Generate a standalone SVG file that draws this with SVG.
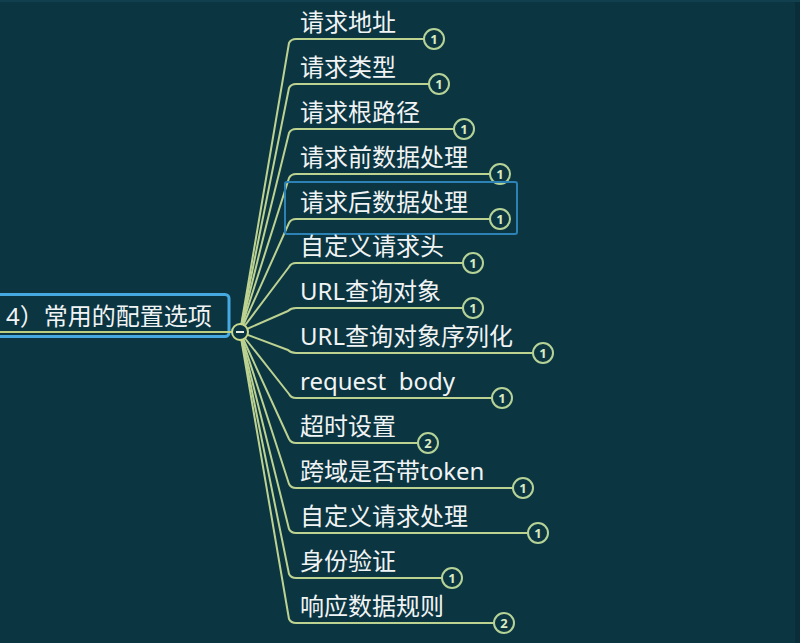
<svg xmlns="http://www.w3.org/2000/svg" width="800" height="643" viewBox="0 0 800 643">
<style>
.t{font-family:"Noto Sans","Noto Sans CJK SC",sans-serif;font-size:24px;fill:#f1f4f4;white-space:pre}
.ln{fill:none;stroke:#bcd291;stroke-width:2;stroke-linecap:round;stroke-linejoin:round}
.bd circle{fill:#0c3542;stroke:#b6d397;stroke-width:2}
.bd text{font-family:"Noto Sans","DejaVu Sans",sans-serif;font-size:13px;font-weight:bold;fill:#d9ecc2;text-anchor:middle}
</style>
<rect width="800" height="643" fill="#0c3542"/>
<rect x="795" y="0" width="5" height="643" fill="#0a2d3a"/>
<rect x="0" y="0" width="800" height="2" fill="#123f4e"/>
<g id="connectors" class="ln">
<path d="M240,332 L289,43 Q291,39 296,39 H424"/>
<path d="M240,332 L289,88 Q291,84 296,84 H429"/>
<path d="M240,332 L289,133 Q291,129 296,129 H454"/>
<path d="M240,332 L289,178 Q291,174 296,174 H490"/>
<path d="M240,332 L289,223 Q291,219 296,219 H490"/>
<path d="M240,332 L289,267 Q291,263 296,263 H463"/>
<path d="M240,332 L288,311 Q291,308 296,308 H463"/>
<path d="M240,332 L288,350 Q291,353 296,353 H533"/>
<path d="M240,332 L289,394 Q291,398 296,398 H492"/>
<path d="M240,332 L289,439 Q291,443 296,443 H418"/>
<path d="M240,332 L289,484 Q291,488 296,488 H513"/>
<path d="M240,332 L289,529 Q291,533 296,533 H528"/>
<path d="M240,332 L289,574 Q291,578 296,578 H442"/>
<path d="M240,332 L289,619 Q291,623 296,623 H494"/>
</g>
<g id="root">
<rect x="-10" y="294.5" width="239" height="42" rx="4" fill="none" stroke="#46a9e0" stroke-width="3"/>
<line x1="-10" y1="332" x2="232" y2="332" stroke="#bccf80" stroke-width="2"/>
<text class="t" x="6" y="325">4）常用的配置选项</text>
<circle cx="240" cy="332" r="8" fill="#0c3542" stroke="#c7d98a" stroke-width="2"/>
<line x1="236" y1="332" x2="244" y2="332" stroke="#e8eee0" stroke-width="2"/>
</g>
<g id="n1"><text class="t" x="300" y="31">请求地址</text><g class="bd"><circle cx="434" cy="39" r="10"/><text x="434" y="43.5">1</text></g></g>
<g id="n2"><text class="t" x="300" y="76">请求类型</text><g class="bd"><circle cx="439" cy="84" r="10"/><text x="439" y="88.5">1</text></g></g>
<g id="n3"><text class="t" x="300" y="121">请求根路径</text><g class="bd"><circle cx="464" cy="129" r="10"/><text x="464" y="133.5">1</text></g></g>
<g id="n4"><text class="t" x="300" y="166">请求前数据处理</text><g class="bd"><circle cx="500" cy="174" r="10"/><text x="500" y="178.5">1</text></g></g>
<g id="n5"><rect x="285" y="182" width="232" height="52" rx="2" fill="none" stroke="#2c82b5" stroke-width="2"/><text class="t" x="300" y="211">请求后数据处理</text><g class="bd"><circle cx="500" cy="219" r="10"/><text x="500" y="223.5">1</text></g></g>
<g id="n6"><text class="t" x="300" y="255">自定义请求头</text><g class="bd"><circle cx="473" cy="263" r="10"/><text x="473" y="267.5">1</text></g></g>
<g id="n7"><text class="t" x="300" y="300">URL查询对象</text><g class="bd"><circle cx="473" cy="308" r="10"/><text x="473" y="312.5">1</text></g></g>
<g id="n8"><text class="t" x="300" y="345">URL查询对象序列化</text><g class="bd"><circle cx="543" cy="353" r="10"/><text x="543" y="357.5">1</text></g></g>
<g id="n9"><text class="t" x="300" y="390">request  body</text><g class="bd"><circle cx="502" cy="398" r="10"/><text x="502" y="402.5">1</text></g></g>
<g id="n10"><text class="t" x="300" y="435">超时设置</text><g class="bd"><circle cx="428" cy="443" r="10"/><text x="428" y="447.5">2</text></g></g>
<g id="n11"><text class="t" x="300" y="480">跨域是否带token</text><g class="bd"><circle cx="523" cy="488" r="10"/><text x="523" y="492.5">1</text></g></g>
<g id="n12"><text class="t" x="300" y="525">自定义请求处理</text><g class="bd"><circle cx="538" cy="533" r="10"/><text x="538" y="537.5">1</text></g></g>
<g id="n13"><text class="t" x="300" y="570">身份验证</text><g class="bd"><circle cx="452" cy="578" r="10"/><text x="452" y="582.5">1</text></g></g>
<g id="n14"><text class="t" x="300" y="615">响应数据规则</text><g class="bd"><circle cx="504" cy="623" r="10"/><text x="504" y="627.5">2</text></g></g>
</svg>
